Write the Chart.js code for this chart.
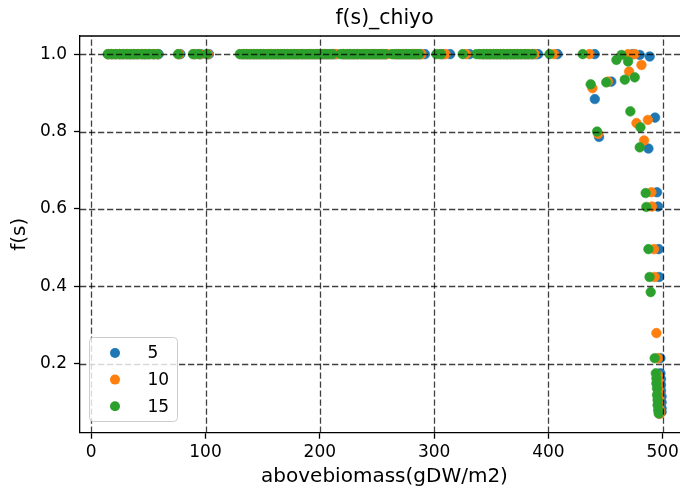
<!DOCTYPE html>
<html>
<head>
<meta charset="utf-8">
<script src="https://cdn.jsdelivr.net/npm/chart.js@4/dist/chart.umd.min.js"></script>
<style>
  html, body { margin: 0; padding: 0; background: #fff; overflow: hidden; }
  canvas { display: block; }
</style>
</head>
<body>
<canvas id="c" width="700" height="492"></canvas>
<script>
// f(s) against above-ground biomass for three runs (5, 10, 15)
const seriesLabels = ['5', '10', '15'];
const seriesColors = ['#1f77b4', '#ff7f0e', '#2ca02c'];

const xTicks = [0, 100, 200, 300, 400, 500];
const yTicks = [0.2, 0.4, 0.6, 0.8, 1.0];

// [abovebiomass, f(s)]
const run5 = [
  [15,1],[18,1],[22,1],[25,1],[28,1],[32,1],[35,1],[38,1],[41,1],[45,1],[48,1],[51,1],[55,1],[59,1],[78,1],[91,1],[96,1],[103,1],
  [133,1],[136,1],[139,1],[142,1],[145,1],[148,1],[151,1],[154,1],[157,1],[160,1],[163,1],[166,1],[169,1],[172,1],[175,1],[178,1],
  [181,1],[185,1],[188,1],[191,1],[194,1],[197,1],[200,1],[203,1],[206,1],[209,1],[212,1],[214,1],
  [221,1],[224,1],[227,1],[230,1],[233,1],[237,1],[240,1],[243,1],[246,1],[249,1],[252,1],[255,1],[258,1],
  [267,1],[270,1],[273,1],[276,1],[279,1],[282,1],[285,1],[288,1],[292,1],
  [308,1],[314,1],[331,1],[343,1],[346,1],[349,1],[352,1],[355,1],[358,1],[361,1],[364,1],[367,1],[370,1],[373,1],[376,1],[380,1],[383,1],[386,1],[389,1],[391,1],
  [408,1],[440.5,1],
  [440.6,0.884],[455,0.929],[474,1.0],[479.9,0.998],[488.6,0.994],[493.3,0.836],[444.3,0.786],[487.5,0.756],
  [495,0.643],[495.9,0.606],[496.5,0.496],[496.8,0.424],[498,0.214],
  [498,0.175],[498.5,0.16],[498.5,0.145],[498.5,0.13],[499,0.115],[499,0.1],[499,0.085],[499,0.075]
];

const run10 = [
  [15,1],[18,1],[21,1],[25,1],[28,1],[31,1],[34,1],[37,1],[41,1],[44,1],[47,1],[51,1],[55,1],[58,1],[77,1],[90,1],[95,1],[102,1],
  [131,1],[134,1],[137,1],[140,1],[143,1],[146,1],[149,1],[152,1],[155,1],[158,1],[161,1],[164,1],[167,1],[170,1],[173,1],[177,1],
  [180,1],[183,1],[186,1],[189,1],[192,1],[195,1],[198,1],[201,1],[204,1],[207,1],[210,1],[214,1],
  [220,1],[223,1],[226,1],[229,1],[232,1],[235,1],[238,1],[241,1],[244,1],[247,1],[250,1],[253,1],[256,1],[259,1],
  [265,1],[268,1],[271,1],[274,1],[277,1],[280,1],[283,1],[286,1],[289,1],
  [305,1],[310,1],[328,1],[340,1],[343,1],[346,1],[349,1],[352,1],[355,1],[358,1],[361,1],[364,1],[367,1],[370,1],[373,1],[376,1],[379,1],[382,1],[385,1],[388,1],
  [405,1],[436,1],
  [438.5,0.912],[452,0.929],[469.7,1.0],[475.5,1.0],[481.4,0.972],[470.6,0.955],[477,0.822],[487,0.83],[443.5,0.794],[483.7,0.777],
  [490.1,0.643],[490.6,0.606],[492.4,0.496],[493,0.424],[494.5,0.279],[495.9,0.214],
  [496,0.17],[496.5,0.155],[496.5,0.14],[497,0.125],[497,0.11],[497,0.095],[497.5,0.08],[497.5,0.07]
];

const run15 = [
  [14.5,1],[18,1],[21,1],[25,1],[28,1],[31,1],[34,1],[37,1],[40,1],[44,1],[47,1],[50,1],[54,1],[58,1],[76,1],[89,1],[94,1],[101,1],
  [130,1],[133,1],[136,1],[139,1],[142,1],[145,1],[148,1],[151,1],[154,1],[157,1],[160,1],[163,1],[166,1],[169,1],[172,1],[175,1],
  [178,1],[181,1],[184,1],[187,1],[190,1],[193,1],[196,1],[199,1],[202,1],[205,1],[208,1],[211,1],
  [218,1],[221,1],[224,1],[227,1],[230,1],[233,1],[236,1],[239,1],[242,1],[245,1],[248,1],[251,1],[254,1],[257,1],
  [263,1],[266,1],[269,1],[272,1],[275,1],[278,1],[281,1],[284,1],[287,1],
  [302,1],[306,1],[325,1],[337,1],[340,1],[343,1],[346,1],[349,1],[352,1],[355,1],[358,1],[361,1],[364,1],[367,1],[370,1],[373,1],[376,1],[379,1],[382,1],[386,1],
  [401,1],[430,1],
  [437,0.922],[450.6,0.927],[459.5,0.985],[463.9,0.998],[469.7,0.981],[466.8,0.934],[475.5,0.94],[471.7,0.852],[480.5,0.811],
  [442.6,0.8],[479.9,0.759],[485.1,0.641],[485.7,0.605],[487.5,0.496],[488.5,0.424],[489.5,0.385],[493,0.214],
  [494,0.175],[494.5,0.162],[494.5,0.149],[495,0.136],[495,0.119],[495.5,0.106],[495.5,0.093],[496,0.08],[496.5,0.071]
];

const runs = [run5, run10, run15];

const FONT = 'DejaVu Sans';

// dashed grid drawn over the markers, at each tick position
const dashedGridPlugin = {
  id: 'dashedGrid',
  afterDatasetsDraw(chart) {
    const { ctx, chartArea: a, scales } = chart;
    ctx.save();
    ctx.beginPath();
    ctx.rect(a.left, a.top, a.right - a.left, a.bottom - a.top);
    ctx.clip();
    ctx.strokeStyle = 'rgba(0,0,0,0.75)';
    ctx.lineWidth = 1.3;
    ctx.setLineDash([6.3, 2.7]);
    xTicks.forEach(v => {
      const px = Math.round(scales.x.getPixelForValue(v)) + 0.5;
      ctx.beginPath();
      ctx.moveTo(px, a.bottom);
      ctx.lineTo(px, a.top);
      ctx.stroke();
    });
    yTicks.forEach(v => {
      const py = Math.round(scales.y.getPixelForValue(v)) + 0.5;
      ctx.beginPath();
      ctx.moveTo(a.left, py);
      ctx.lineTo(a.right, py);
      ctx.stroke();
    });
    ctx.restore();
  }
};

// spines on the top and right, plus the legend box in the lower left
const framePlugin = {
  id: 'frame',
  afterDraw(chart) {
    const { ctx, chartArea: a } = chart;
    ctx.save();
    ctx.strokeStyle = '#000';
    ctx.lineWidth = 1.3;
    ctx.setLineDash([]);
    ctx.beginPath();
    ctx.moveTo(a.left, a.top);
    ctx.lineTo(a.right, a.top);
    ctx.lineTo(a.right, a.bottom);
    ctx.stroke();

    // legend
    const bx = 89.5, by = 337.5, bw = 88, bh = 84, r = 4;
    ctx.beginPath();
    ctx.moveTo(bx + r, by);
    ctx.arcTo(bx + bw, by, bx + bw, by + bh, r);
    ctx.arcTo(bx + bw, by + bh, bx, by + bh, r);
    ctx.arcTo(bx, by + bh, bx, by, r);
    ctx.arcTo(bx, by, bx + bw, by, r);
    ctx.closePath();
    ctx.fillStyle = 'rgba(255,255,255,0.8)';
    ctx.fill();
    ctx.strokeStyle = '#cccccc';
    ctx.lineWidth = 1;
    ctx.stroke();

    ctx.font = '17px "' + FONT + '"';
    ctx.textBaseline = 'middle';
    ctx.textAlign = 'left';
    chart.data.datasets.forEach((ds, i) => {
      const y = 353 + i * 26.6;
      ctx.beginPath();
      ctx.arc(115, y, 5, 0, Math.PI * 2);
      ctx.fillStyle = ds.backgroundColor;
      ctx.fill();
      ctx.fillStyle = '#000';
      ctx.fillText(ds.label, 147.5, y + 1);
    });
    ctx.restore();
  }
};

const gridStyle = {
  drawOnChartArea: false,
  drawTicks: true,
  color: '#000',
  tickColor: '#000',
  tickWidth: 1.3,
  tickLength: 6
};

new Chart(document.getElementById('c'), {
  type: 'scatter',
  data: {
    datasets: runs.map((run, i) => ({
      label: seriesLabels[i],
      data: run.map(p => ({ x: p[0], y: p[1] })),
      backgroundColor: seriesColors[i],
      borderColor: seriesColors[i],
      borderWidth: 0.6,
      pointRadius: 4.8,
      pointHoverRadius: 4.8,
      order: runs.length - i
    }))
  },
  options: {
    responsive: false,
    animation: false,
    devicePixelRatio: 1,
    layout: { padding: { left: 0, right: 11, top: 0, bottom: 0 } },
    plugins: {
      legend: { display: false },
      tooltip: { enabled: false },
      title: {
        display: true,
        fullSize: false,
        text: 'f(s)_chiyo',
        color: '#000',
        font: { family: FONT, size: 20.4, weight: 'normal' },
        padding: { top: 6, bottom: 5.5 }
      }
    },
    scales: {
      x: {
        type: 'linear',
        min: -9.8,
        max: 523,
        z: 1,
        afterBuildTicks(scale) { scale.ticks = xTicks.map(v => ({ value: v })); },
        afterFit(scale) { scale.height = 59.3; },
        grid: gridStyle,
        border: { display: true, color: '#000', width: 1.3 },
        ticks: {
          color: '#000',
          padding: 4,
          maxRotation: 0,
          font: { family: FONT, size: 17 },
          callback: v => String(v)
        },
        title: {
          display: true,
          text: 'abovebiomass(gDW/m2)',
          color: '#000',
          font: { family: FONT, size: 20 },
          padding: { top: 0, bottom: 3 }
        }
      },
      y: {
        type: 'linear',
        min: 0.0215,
        max: 1.047,
        z: 1,
        afterBuildTicks(scale) { scale.ticks = yTicks.map(v => ({ value: v })); },
        afterFit(scale) { scale.width = 80; },
        grid: gridStyle,
        border: { display: true, color: '#000', width: 1.3 },
        ticks: {
          color: '#000',
          padding: 7,
          font: { family: FONT, size: 17 },
          callback: v => v.toFixed(1)
        },
        title: {
          display: true,
          text: 'f(s)',
          color: '#000',
          font: { family: FONT, size: 20 },
          padding: { top: 8, bottom: 0 }
        }
      }
    }
  },
  plugins: [dashedGridPlugin, framePlugin]
});
</script>
</body>
</html>
